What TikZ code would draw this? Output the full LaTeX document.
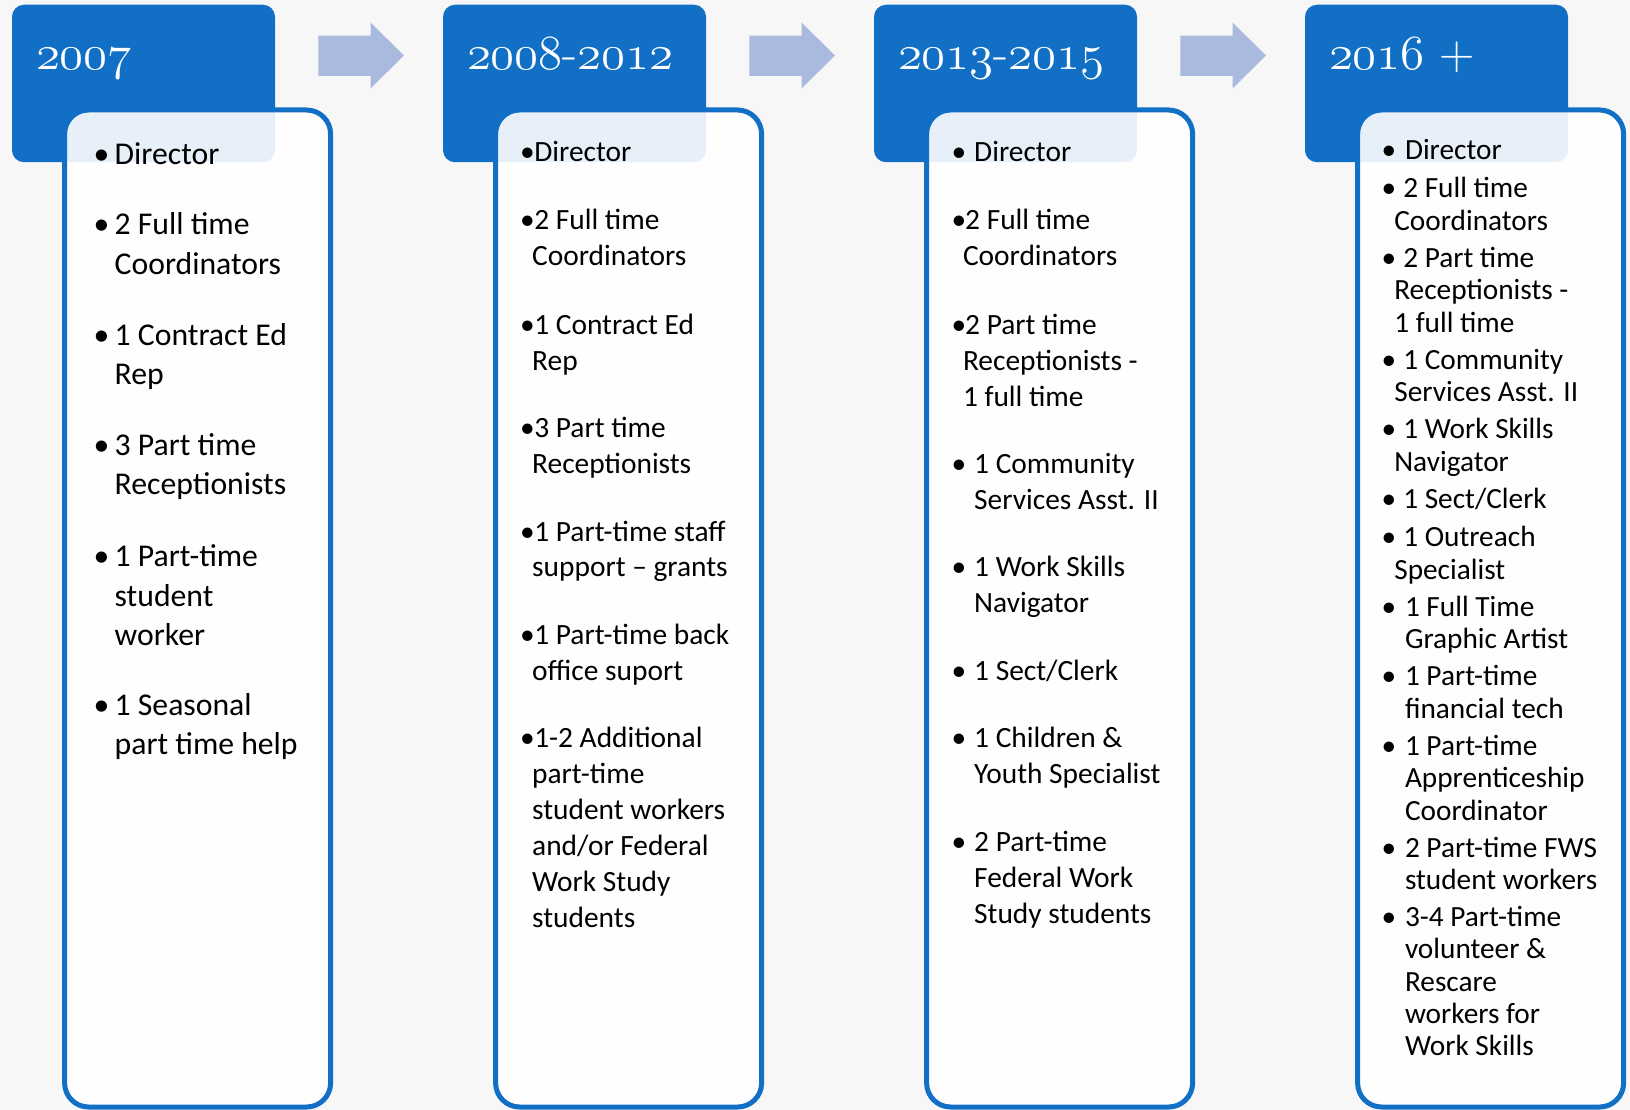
\documentclass[tikz,border=0pt]{standalone}
\usepackage{fontspec}
\usepackage{graphicx}
\newfontfamily\calib{Carlito}
\definecolor{hblue}{RGB}{17,112,198}
\definecolor{ablue}{RGB}{170,186,223}
\definecolor{bgc}{RGB}{247,247,247}
\newcommand\ilines[1]{\vtop{\halign{##\hfil\cr#1\crcr}}}
\newcommand\bu[1]{\makebox[#1][l]{•}}
\newcommand\ind[1]{\hspace*{#1}}
\newcommand\osn[1]{$\mathnormal{#1}$}
\newcommand\yr[1]{\scalebox{1.97}{\fontsize{24.88}{30}\selectfont #1}}
% box 1
\newcommand\pA{\bu{21.2pt}}\newcommand\qA{\ind{21.2pt}}
% box 2
\newcommand\pB{\bu{14.3pt}}\newcommand\qB{\ind{12.2pt}}
% box 3
\newcommand\pC{\bu{22.7pt}}\newcommand\qC{\ind{22.7pt}}
\newcommand\pCC{\bu{13.7pt}}\newcommand\qCC{\ind{11.5pt}}
% box 4
\newcommand\pD{\bu{23.5pt}}\newcommand\qD{\ind{23.5pt}}
\newcommand\pDD{\bu{21.8pt}}\newcommand\qDD{\ind{12.8pt}}
\begin{document}
\begin{tikzpicture}[x=1pt,y=-1pt,
  hdr/.style={rectangle, rounded corners=12pt, fill=hblue, minimum width=263pt, minimum height=157.5pt, inner sep=0pt, outer sep=0pt},
  cbox/.style={rectangle, rounded corners=24pt, draw=hblue, line width=5pt, fill=white, fill opacity=0.9, draw opacity=1, minimum width=266pt, minimum height=997pt, inner sep=0pt, outer sep=0pt},
  yrtext/.style={anchor=base west, inner sep=0pt, outer sep=0pt, text=white},
  itm/.style={anchor=base west, inner sep=0pt, outer sep=0pt, text=black},
  fA/.style={itm, font=\calib\fontsize{31.7}{39.5}\selectfont},
  fB/.style={itm, font=\calib\fontsize{29.4}{35.9}\selectfont},
  fD/.style={itm, font=\calib\fontsize{29.3}{32.3}\selectfont},
  barrow/.style={fill=ablue}]
\fill[bgc] (0,0) rectangle (1630,1110);
\useasboundingbox (0,0) rectangle (1630,1110);

% headers
\node[hdr] (h1) at (143.5,83.5) {};
\node[hdr] (h2) at (574.5,83.5) {};
\node[hdr] (h3) at (1005.5,83.5) {};
\node[hdr] (h4) at (1436.5,83.5) {};

% arrows
\foreach \dx in {0,431,862}{
  \fill[barrow] (318.3+\dx,35.7) -- (370.7+\dx,35.7) -- (370.7+\dx,22.7) -- (404+\dx,55.5)
     -- (370.7+\dx,88.3) -- (370.7+\dx,76) -- (318.3+\dx,76) -- cycle;
}

% year labels
\node[yrtext] (y1) at (36,70) {\yr{\osn{2007}}};
\node[yrtext] (y2) at (467,70) {\yr{\osn{2008}-\osn{2012}}};
\node[yrtext] (y3) at (898,70) {\yr{\osn{2013}-\osn{2015}}};
\node[yrtext] (y4) at (1329,70) {\yr{\osn{2016} +}};

% content boxes
\node[cbox] (c1) at (197.6,608.5) {};
\node[cbox] (c2) at (628.6,608.5) {};
\node[cbox] (c3) at (1059.6,608.5) {};
\node[cbox] (c4) at (1490.6,608.5) {};

% box 1
\node[fA] (a1) at (93.5,164.2) {\ilines{\pA Director}};
\node[fA] (a2) at (93.5,234.9) {\ilines{\pA 2 Full time\cr\qA Coordinators}};
\node[fA] (a3) at (93.5,345.1) {\ilines{\pA 1 Contract Ed\cr\qA Rep}};
\node[fA] (a4) at (93.5,455.3) {\ilines{\pA 3 Part time\cr\qA Receptionists}};
\node[fA] (a5) at (93.5,566.5) {\ilines{\pA 1 Part-time\cr\qA student\cr\qA worker}};
\node[fA] (a6) at (93.5,715.2) {\ilines{\pA 1 Seasonal\cr\qA part time help}};

% box 2
\node[fB] (b1) at (520,161.5) {\ilines{\pB Director}};
\node[fB] (b2) at (520,229.6) {\ilines{\pB 2 Full time\cr\qB Coordinators}};
\node[fB] (b3) at (520,334.4) {\ilines{\pB 1 Contract Ed\cr\qB Rep}};
\node[fB] (b4) at (520,437.3) {\ilines{\pB 3 Part time\cr\qB Receptionists}};
\node[fB] (b5) at (520,541) {\ilines{\pB 1 Part-time staff\cr\qB support – grants}};
\node[fB] (b6) at (520,644.8) {\ilines{\pB 1 Part-time back\cr\qB office suport}};
\node[fB] (b7) at (520,747.6) {\ilines{\pB 1-2 Additional\cr\qB part-time\cr\qB student workers\cr\qB and/or Federal\cr\qB Work Study\cr\qB students}};

% box 3
\node[fB] (d1) at (951.5,161.5) {\ilines{\pC Director}};
\node[fB] (d2) at (951.5,229.6) {\ilines{\pCC 2 Full time\cr\qCC Coordinators}};
\node[fB] (d3) at (951.5,334.4) {\ilines{\pCC 2 Part time\cr\qCC Receptionists -\cr\qCC 1 full time}};
\node[fB] (d4) at (951.5,473.5) {\ilines{\pC 1 Community\cr\qC Services Asst. II}};
\node[fB] (d5) at (951.5,576.2) {\ilines{\pC 1 Work Skills\cr\qC Navigator}};
\node[fB] (d6) at (951.5,680) {\ilines{\pC 1 Sect/Clerk}};
\node[fB] (d7) at (951.5,747.6) {\ilines{\pC 1 Children \&\cr\qC Youth Specialist}};
\node[fB] (d8) at (951.5,851.3) {\ilines{\pC 2 Part-time\cr\qC Federal Work\cr\qC Study students}};

% box 4
\node[fD] (e1) at (1381.5,159.8) {\ilines{\pD Director}};
\node[fD] (e2) at (1381.5,198) {\ilines{\pDD 2 Full time\cr\qDD Coordinators}};
\node[fD] (e3) at (1381.5,267.5) {\ilines{\pDD 2 Part time\cr\qDD Receptionists -\cr\qDD 1 full time}};
\node[fD] (e4) at (1381.5,369.3) {\ilines{\pDD 1 Community\cr\qDD Services Asst. II}};
\node[fD] (e5) at (1381.5,438.8) {\ilines{\pDD 1 Work Skills\cr\qDD Navigator}};
\node[fD] (e6) at (1381.5,508.4) {\ilines{\pDD 1 Sect/Clerk}};
\node[fD] (e7) at (1381.5,546.7) {\ilines{\pDD 1 Outreach\cr\qDD Specialist}};
\node[fD] (e8) at (1381.5,616.3) {\ilines{\pD 1 Full Time\cr\qD Graphic Artist}};
\node[fD] (e9) at (1381.5,685.8) {\ilines{\pD 1 Part-time\cr\qD financial tech}};
\node[fD] (e10) at (1381.5,755.4) {\ilines{\pD 1 Part-time\cr\qD Apprenticeship\cr\qD Coordinator}};
\node[fD] (e11) at (1381.5,857) {\ilines{\pD 2 Part-time FWS\cr\qD student workers}};
\node[fD] (e12) at (1381.5,926.6) {\ilines{\pD 3-4 Part-time\cr\qD volunteer \&\cr\qD Rescare\cr\qD workers for\cr\qD Work Skills}};
\end{tikzpicture}
\end{document}
